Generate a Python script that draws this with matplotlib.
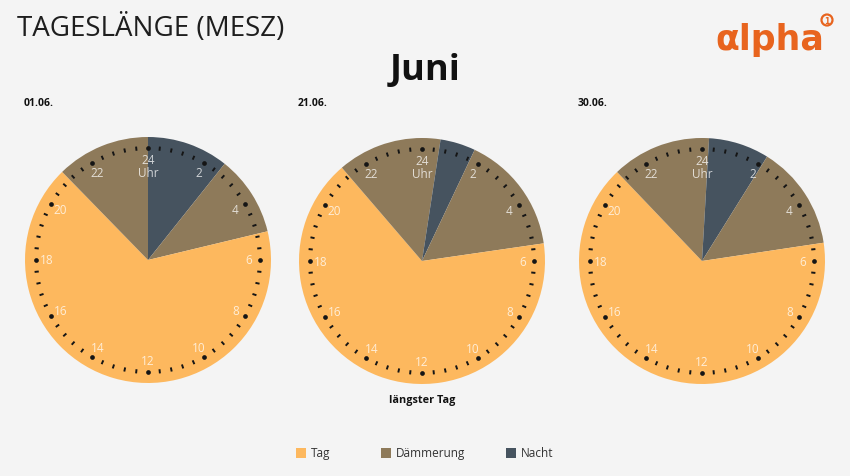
import numpy as np
import matplotlib
matplotlib.use("Agg")
import matplotlib.pyplot as plt
from matplotlib.patches import Circle, Rectangle

# Daten: Abschnitte im Uhrzeigersinn ab 0 Uhr (Dauer in Stunden)
DATES = ["01.06.", "21.06.", "30.06."]
SEG_CATS = [
    ["Nacht", "Dämmerung", "Tag", "Dämmerung"],
    ["Dämmerung", "Nacht", "Dämmerung", "Tag", "Dämmerung"],
    ["Dämmerung", "Nacht", "Dämmerung", "Tag", "Dämmerung"],
]
SEG_HOURS = [
    [2.57, 2.53, 15.95, 2.95],
    [0.58, 1.11, 3.76, 15.84, 2.71],
    [0.22, 1.91, 3.30, 15.66, 2.91],
]
LEGEND = ["Tag", "Dämmerung", "Nacht"]
COLORS = {"Tag": "#FDB85E", "Dämmerung": "#8E7A5A", "Nacht": "#46535F"}
HOUR_LABELS = list(range(2, 25, 2))

BG = "#F4F4F4"
W, H = 850, 477
FONT = "Open Sans"

fig = plt.figure(figsize=(W / 100, H / 100), dpi=100, facecolor=BG)
ax = fig.add_axes([0, 0, 1, 1])
ax.set_xlim(0, W)
ax.set_ylim(0, H)
ax.axis("off")
ax.set_facecolor(BG)

def py(y):  # Pixel von oben -> Datenkoordinate
    return H - y

centers = [(148, 261), (422, 262), (702, 262)]
R = 123

for i, (cx, cy) in enumerate(centers):
    cy = py(cy)
    cols = [COLORS[c] for c in SEG_CATS[i]]
    ax.pie(SEG_HOURS[i], colors=cols, startangle=90, counterclock=False,
           center=(cx, cy), radius=R, frame=True,
           wedgeprops=dict(linewidth=0))
    # Zifferblatt-Striche (60 Teilungen)
    for k in range(60):
        a = np.deg2rad(90 - k * 6)
        if k % 5 == 0:
            rr = 0.91 * R
            ax.plot(cx + rr * np.cos(a), cy + rr * np.sin(a), "o",
                    color="#151515", ms=3.4, mew=0, zorder=5)
        else:
            r0, r1 = 0.893 * R, 0.927 * R
            ax.plot([cx + r0 * np.cos(a), cx + r1 * np.cos(a)],
                    [cy + r0 * np.sin(a), cy + r1 * np.sin(a)],
                    color="#151515", lw=1.4, solid_capstyle="butt", zorder=5)
    # Stundenbeschriftung
    for h in HOUR_LABELS:
        a = np.deg2rad(90 - h * 15)
        rr = 0.82 * R
        ax.text(cx + rr * np.cos(a), cy + rr * np.sin(a), str(h),
                ha="center", va="center", fontsize=8.5, family=FONT,
                color="white", alpha=0.75, zorder=6)
    ax.text(cx, cy + 0.71 * R, "Uhr", ha="center", va="center", fontsize=8.5,
            family=FONT, color="white", alpha=0.75, zorder=6)
    ax.text(cx - 124, py(104), DATES[i], ha="left", va="center",
            fontsize=7.5, fontweight="bold", family=FONT, color="#111111")

ax.set_xlim(0, W)
ax.set_ylim(0, H)
ax.set_aspect("auto")

ax.text(422, py(401), "längster Tag", ha="center", va="center", fontsize=7.8,
        fontweight="bold", family=FONT, color="#111111")

# Titel
ax.text(17, py(29), "TAGESLÄNGE (MESZ)", ha="left", va="center",
        fontsize=20, family=FONT, color="#1E1E1E")
ax.text(425, py(71), "Juni", ha="center", va="center", fontsize=26,
        fontweight="bold", family=FONT, color="#111111")

# Logo
ax.text(715, py(40), "αlpha", ha="left", va="center", fontsize=25,
        fontweight="bold", family="DejaVu Sans", color="#E8641E")
ax.add_patch(Circle((827, py(21)), 5.5, fill=False, ec="#E8641E", lw=1.6))
ax.text(827, py(21), "1", ha="center", va="center", fontsize=5.5,
        fontweight="bold", color="#E8641E")

# Legende
leg_x = [296, 381, 506]
for x, name in zip(leg_x, LEGEND):
    ax.add_patch(Rectangle((x, py(459)), 10, 10, color=COLORS[name], lw=0))
    ax.text(x + 15, py(454), name, ha="left", va="center", fontsize=8.5,
            family=FONT, color="#333333")

fig.savefig("out.png", dpi=100, facecolor=BG)
